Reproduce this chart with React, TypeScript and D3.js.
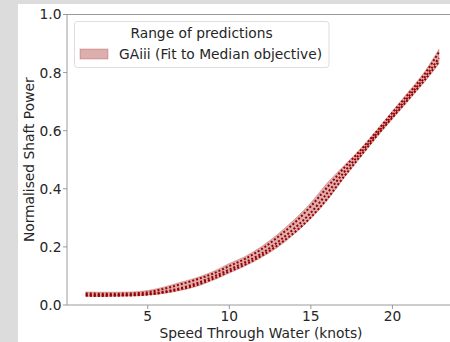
import React from "react";
import * as d3 from "d3";

const speeds = [1.2, 2, 3, 4, 5, 6, 7, 8, 9, 10, 11, 12, 13, 14, 15, 16, 17, 18, 19, 20, 21, 22, 22.85];
const bandUpper = [0.045, 0.044, 0.044, 0.045, 0.05, 0.062, 0.078, 0.094, 0.115, 0.143, 0.168, 0.202, 0.245, 0.295, 0.352, 0.42, 0.478, 0.535, 0.6, 0.668, 0.735, 0.805, 0.88];
const bandLower = [0.03, 0.029, 0.03, 0.031, 0.034, 0.04, 0.05, 0.064, 0.085, 0.11, 0.135, 0.165, 0.2, 0.245, 0.298, 0.36, 0.435, 0.505, 0.575, 0.64, 0.705, 0.77, 0.83];
const predA = [0.04, 0.039, 0.039, 0.04, 0.044, 0.056, 0.071, 0.088, 0.108, 0.134, 0.16, 0.193, 0.235, 0.283, 0.34, 0.405, 0.47, 0.53, 0.595, 0.662, 0.728, 0.797, 0.87];
const predB = [0.035, 0.034, 0.034, 0.035, 0.038, 0.046, 0.058, 0.075, 0.097, 0.122, 0.148, 0.178, 0.218, 0.264, 0.318, 0.385, 0.455, 0.52, 0.587, 0.652, 0.718, 0.785, 0.85];
const predC = [0.032, 0.031, 0.032, 0.033, 0.036, 0.043, 0.054, 0.069, 0.09, 0.115, 0.14, 0.17, 0.207, 0.25, 0.302, 0.366, 0.44, 0.51, 0.58, 0.645, 0.71, 0.776, 0.838];
const xTicks = [5, 10, 15, 20];
const yTicks = [0, 0.2, 0.4, 0.6, 0.8, 1.0];
const legendTitle = "Range of predictions";
const legendLabel = "GAiii (Fit to Median objective)";
const xLabel = "Speed Through Water (knots)";
const yLabel = "Normalised Shaft Power";

const W = 450;
const H = 342;
const L = 67;
const T = 14.5;
const B = 305;
const R = 459.3;
const FONT = "DejaVu Sans, sans-serif";
const FS = 13.8;
const TXT = "#262626";
const SPINE = "#9a9a9a";
const FILL = "#a52a2a";
const LINE = "#990000";

export default function App() {
  const x = d3.scaleLinear().domain([0.05, 24.1]).range([L, R]);
  const y = d3.scaleLinear().domain([0, 1]).range([B, T]);

  const area = d3
    .area<number>()
    .x((_, i) => x(speeds[i]))
    .y0((_, i) => y(bandLower[i]))
    .y1((d) => y(d))
    .curve(d3.curveMonotoneX);
  const line = d3
    .line<number>()
    .x((_, i) => x(speeds[i]))
    .y((d) => y(d))
    .curve(d3.curveMonotoneX);

  const fmt = d3.format(".1f");

  return (
    <svg
      width={W}
      height={H}
      style={{ position: "absolute", left: 0, top: 0, display: "block" }}
      fontFamily={FONT}
    >
      <rect x={0} y={0} width={W} height={H} fill="#dcdcdc" />
      <rect x={18} y={4} width={W - 18} height={H - 4} fill="#ffffff" />
      <defs>
        <clipPath id="plotClip">
          <rect x={L} y={T} width={R - L} height={B - T} />
        </clipPath>
      </defs>
      <g clipPath="url(#plotClip)">
        <path d={area(bandUpper) || ""} fill={FILL} fillOpacity={0.38} stroke={FILL} strokeOpacity={0.3} strokeWidth={1} />
        {[predA, predB, predC].map((s, k) => (
          <path
            key={k}
            d={line(s) || ""}
            fill="none"
            stroke={LINE}
            strokeWidth={2}
            strokeDasharray="2 2"
          />
        ))}
      </g>
      {/* spines */}
      <line x1={L} y1={T} x2={L} y2={B} stroke={SPINE} strokeWidth={1} />
      <line x1={L} y1={B} x2={W} y2={B} stroke={SPINE} strokeWidth={1} />
      <line x1={L} y1={T} x2={W} y2={T} stroke={SPINE} strokeWidth={1} />
      {/* x ticks */}
      {xTicks.map((t) => (
        <g key={"x" + t}>
          <line x1={x(t)} y1={B} x2={x(t)} y2={B + 4} stroke={SPINE} />
          <text x={x(t)} y={321} textAnchor="middle" fontSize={FS} fill={TXT}>
            {t}
          </text>
        </g>
      ))}
      {/* y ticks */}
      {yTicks.map((t) => (
        <g key={"y" + t}>
          <line x1={L - 4} y1={y(t)} x2={L} y2={y(t)} stroke={SPINE} />
          <text x={61.5} y={y(t)} dy="0.36em" textAnchor="end" fontSize={FS} fill={TXT}>
            {fmt(t)}
          </text>
        </g>
      ))}
      <text x={261} y={338} textAnchor="middle" fontSize={FS} fill={TXT}>
        {xLabel}
      </text>
      <text
        transform={`translate(34,${(T + B) / 2}) rotate(-90)`}
        textAnchor="middle"
        fontSize={FS}
        fill={TXT}
      >
        {yLabel}
      </text>
      {/* legend */}
      <rect x={74.5} y={21.5} width={254.5} height={46} rx={3} fill="#ffffff" fillOpacity={0.8} stroke="#dddddd" />
      <text x={201.5} y={37.5} textAnchor="middle" fontSize={FS} fill={TXT}>
        {legendTitle}
      </text>
      <rect x={80} y={49} width={28} height={10} fill={FILL} fillOpacity={0.38} stroke={FILL} strokeOpacity={0.3} />
      <text x={119} y={58.5} fontSize={FS} fill={TXT}>
        {legendLabel}
      </text>
    </svg>
  );
}
